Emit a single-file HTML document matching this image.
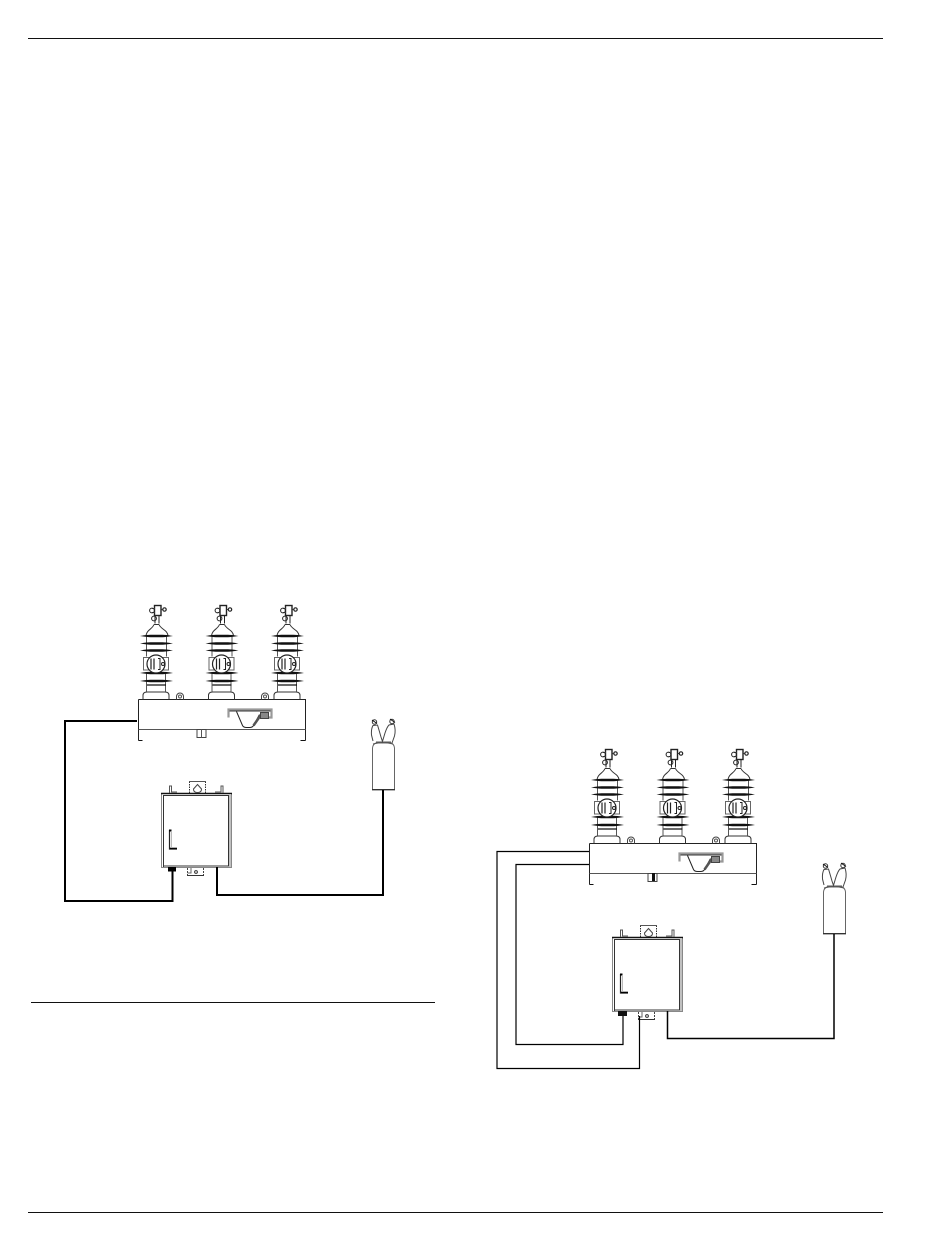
<!DOCTYPE html>
<html>
<head>
<meta charset="utf-8">
<title>Diagram</title>
<style>
html,body{margin:0;padding:0;background:#fff;width:950px;height:1241px;overflow:hidden}
svg{display:block}
</style>
</head>
<body>
<svg width="950" height="1241" viewBox="0 0 950 1241" xmlns="http://www.w3.org/2000/svg" fill="none" stroke="#222" stroke-width="1">
<defs>
<path id="shed" d="M-16.500,0Q-9,-1.200 -6,-1.200H6Q9,-1.200 16.500,0Q9,1.200 6,1.200H-6Q-9,1.200 -16.500,0Z" fill="#111" stroke="none"/>
<g id="ins">
  <!-- origin: center x, tank top y -->
  <rect x="-1.500" y="-94" width="6.500" height="10" fill="#fff" stroke-width="1.400"/>
  <path d="M-1.500,-91H-4M-1.500,-87H-4" stroke="#555"/>
  <circle cx="-4" cy="-89" r="2.400"/>
  <circle cx="8.500" cy="-90" r="1.700" stroke-width="1.200"/>
  <path d="M5,-90H7" stroke="#333"/>
  <circle cx="-2" cy="-81" r="2.400"/>
  <path d="M-1,-84V-76M3,-84V-76"/>
  <path d="M-2,-75H3" stroke="#333"/>
  <path d="M-2,-75C-4,-70 -9,-70 -10,-64M3,-75C5,-70 11,-70 12,-64" stroke="#333"/>
  <path d="M-9.500,-63V-43M10.500,-63V-43M-9.500,-27V-8M9.500,-27V-8" stroke="#555"/>
  <use href="#shed" y="-63.500" x="0.500"/>
  <use href="#shed" y="-56" x="0.500"/>
  <use href="#shed" y="-49" x="0.500"/>
  <use href="#shed" y="-26.500" x="0.500"/>
  <use href="#shed" y="-18.500" x="0.500"/>
  <path d="M-9,-14.500H10" stroke="#111" stroke-width="1.300"/>
  <rect x="-12.500" y="-42" width="25" height="12.500" fill="#fff" stroke="#666"/>
  <circle cx="0" cy="-35.500" r="9" fill="#fff" stroke="#222" stroke-width="1.200"/>
  <path d="M-5,-41V-30M-2,-41V-30" stroke-width="1.200"/>
  <path d="M2,-41H4V-30H2"/>
  <circle cx="7" cy="-35.500" r="1.500"/>
  <path d="M-13,0V-4Q-13,-7.500 -9,-7.500H9Q13,-7.500 13,-4V0" stroke="#333"/>
</g>
<g id="tank">
  <!-- origin: left, top of tank -->
  <path d="M0,0H167V41" stroke="#222"/>
  <path d="M0,0V41" stroke="#222"/>
  <path d="M0,30H167" stroke="#555"/>
  <path d="M0,41H4M162,41H167" stroke="#111"/>
  <path d="M38,0V-3A3.500,3.500 0 0 1 45,-3V0" stroke="#444"/>
  <circle cx="41.500" cy="-3" r="1.500" stroke="#555"/>
  <path d="M123,0V-3A3.500,3.500 0 0 1 130,-3V0" stroke="#444"/>
  <circle cx="126.500" cy="-3" r="1.500" stroke="#555"/>
  <!-- handle -->
  <path d="M90,18V10H133V18H124" stroke="#999" stroke-width="2.200"/>
  <path d="M91,11.500H132" stroke="#333"/>
  <path d="M98,12L104,26Q105,28 108,28H111Q114,28 115,26L121,15" stroke="#222"/>
  <path d="M115,26L122,16" stroke="#555" stroke-width="2.500"/>
  <rect x="122" y="13" width="8" height="6" fill="#888" stroke="#444"/>
  <!-- bottom bracket -->
  <rect x="58.500" y="30" width="9" height="8" fill="#fff" stroke="#444"/>
  <path d="M63,30V38" stroke="#555"/>
</g>
<g id="box">
  <!-- origin: left, top of box -->
  <rect x="0.500" y="0.500" width="70" height="74" fill="#fff" stroke="#888"/>
  <path d="M0,0.500H71" stroke="#111" stroke-width="1.500"/>
  <path d="M2.500,74V2.500H67.500V73H2.500" stroke="#333"/>
  <path d="M69,2V74" stroke="#aaa" stroke-width="1.500"/>
  <!-- door handle -->
  <path d="M8.500,37V56H16" stroke="#222" stroke-width="1.200"/>
  <path d="M8,37.500H10.500" stroke="#000" stroke-width="2"/>
  <path d="M9,55.500H16" stroke="#000" stroke-width="1.600"/>
  <path d="M10.500,38V54" stroke="#bbb"/>
  <!-- top tab -->
  <path d="M28.500,0V-12M44.500,0V-12" stroke="#333" stroke-dasharray="1.500 1"/>
  <path d="M28,-11.500H45" stroke="#555"/>
  <path d="M36.500,-8.500L40.500,-4Q40.500,-0.500 36.500,-0.500Q32.500,-0.500 32.500,-4Z" stroke="#444"/>
  <!-- ears -->
  <path d="M8.500,0V-7H10.500V-1H16" stroke="#555"/>
  <path d="M54,-1H60V-7H62V0" stroke="#555"/>
  <!-- bottom bracket -->
  <path d="M26.500,75V83M42.500,75V83" stroke="#444" stroke-dasharray="2 1"/>
  <path d="M26,82.500H43" stroke="#333"/>
  <path d="M30,75V80H26.500" stroke="#666"/>
  <circle cx="35" cy="79" r="1.400" stroke="#333"/>
</g>
<g id="cap">
  <!-- origin: left of body, body bottom -->
  <path d="M0.500,0V-42Q1,-46 4,-47H19Q22,-46 22.500,-42V0H0.500Z" stroke="#666"/>
  <path d="M0,-0.500H23" stroke="#333"/>
  <path d="M1,-49L-0.500,-55Q-1,-61 1,-64.500L5.500,-65Q7,-60 9,-53L11,-47" stroke="#444"/>
  <path d="M10,-47L13,-57Q15,-63 17,-65L22,-66Q24,-60 22.500,-54L20,-47" stroke="#444"/>
  <path d="M1,-46L11,-48L21,-46M4,-48H19" stroke="#555"/>
  <circle cx="2.500" cy="-68" r="2.200" stroke="#333"/>
  <circle cx="20" cy="-68.500" r="2.200" stroke="#333"/>
  <path d="M0,-70L5,-66.500M18,-71L23,-67.500" stroke="#111"/>
</g>
<g id="switch">
  <use href="#tank" x="138.500" y="699.500"/>
  <use href="#ins" x="156" y="699.500"/>
  <use href="#ins" x="221.500" y="699.500"/>
  <use href="#ins" x="287" y="699.500"/>
</g>
</defs>

<!-- page rules -->
<path d="M28,38.500H883M28,1212.500H883M31,1002.500H435" stroke="#111"/>

<!-- left diagram -->
<use href="#switch"/>
<use href="#box" x="161" y="793"/>
<use href="#cap" x="372" y="790"/>
<rect x="168" y="867" width="8" height="4.500" fill="#000" stroke="none"/>
<path d="M137,721H65V901H172.500V871" stroke="#000" stroke-width="2"/>
<path d="M217,867V895H383V790" stroke="#000" stroke-width="2"/>

<!-- right diagram -->
<use href="#switch" x="451" y="144"/>
<use href="#box" x="612" y="937"/>
<use href="#cap" x="823" y="934"/>
<rect x="618" y="1011" width="9" height="5" fill="#111" stroke="none"/>
<rect x="652" y="873" width="3" height="8" fill="#111" stroke="none"/>
<path d="M589,851.500H497V1068.500H639.500V1016" stroke="#000" stroke-width="1.200"/>
<path d="M589,864.500H516V1044.500H623V1016" stroke="#000" stroke-width="1.200"/>
<path d="M667.500,1011V1038.500H834V934" stroke="#000" stroke-width="1.500"/>
</svg>
</body>
</html>
